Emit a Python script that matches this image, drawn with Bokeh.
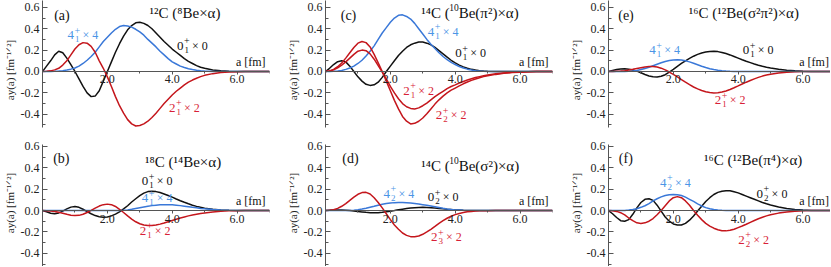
from bokeh.plotting import figure
from bokeh.models import FixedTicker, PrintfTickFormatter, Range1d
from bokeh.layouts import gridplot
from bokeh.core.properties import value
from bokeh.embed import file_html
from bokeh.resources import INLINE

# radial grid a [fm]
A = [0.0, 0.125, 0.25, 0.375, 0.5, 0.625, 0.75, 0.875,
     1.0, 1.125, 1.25, 1.375, 1.5, 1.625, 1.75, 1.875,
     2.0, 2.125, 2.25, 2.375, 2.5, 2.625, 2.75, 2.875,
     3.0, 3.125, 3.25, 3.375, 3.5, 3.625, 3.75, 3.875,
     4.0, 4.125, 4.25, 4.375, 4.5, 4.625, 4.75, 4.875,
     5.0, 5.25, 5.5, 5.75, 6.0, 6.25, 6.5, 6.75, 7.0]

# (a) 12C (8Be x alpha)
a_0p1 = [0, 0.05, 0.10, 0.155, 0.19, 0.175, 0.125, 0.065,
         0.0, -0.07, -0.14, -0.20, -0.235, -0.23, -0.18, -0.09,
         0.0, 0.09, 0.18, 0.26, 0.33, 0.39, 0.43, 0.455,
         0.46, 0.45, 0.43, 0.40, 0.36, 0.32, 0.28, 0.245,
         0.21, 0.18, 0.15, 0.12, 0.095, 0.075, 0.055, 0.04,
         0.03, 0.015, 0.007, 0.003, 0.001, 0, 0, 0, 0]
a_4p1 = [0, 0, 0.001, 0.002, 0.004, 0.008, 0.014, 0.022,
         0.033, 0.05, 0.075, 0.105, 0.14, 0.18, 0.23, 0.28,
         0.32, 0.36, 0.395, 0.42, 0.43, 0.425, 0.415, 0.395,
         0.37, 0.34, 0.30, 0.265, 0.23, 0.19, 0.155, 0.12,
         0.09, 0.07, 0.05, 0.037, 0.026, 0.018, 0.012, 0.007,
         0.004, 0.001, 0, 0, 0, 0, 0, 0, 0]
a_2p1 = [0, 0.002, 0.006, 0.015, 0.03, 0.06, 0.10, 0.155,
         0.21, 0.25, 0.27, 0.265, 0.235, 0.18, 0.10, 0.03,
         -0.05, -0.14, -0.235, -0.32, -0.39, -0.45, -0.49, -0.51,
         -0.505, -0.49, -0.465, -0.43, -0.39, -0.345, -0.30, -0.26,
         -0.22, -0.185, -0.155, -0.125, -0.10, -0.08, -0.063, -0.048,
         -0.036, -0.02, -0.01, -0.005, -0.002, 0, 0, 0, 0]

# (b) 18C (14Be x alpha)
b_0p1 = [0, -0.012, -0.025, -0.03, -0.022, -0.005, 0.015, 0.032,
         0.037, 0.03, 0.012, -0.01, -0.03, -0.047, -0.058, -0.063,
         -0.06, -0.05, -0.033, -0.012, 0.015, 0.045, 0.08, 0.11,
         0.14, 0.163, 0.177, 0.18, 0.177, 0.168, 0.155, 0.14,
         0.125, 0.108, 0.092, 0.077, 0.063, 0.05, 0.039, 0.03,
         0.022, 0.011, 0.005, 0.002, 0, 0, 0, 0, 0]
b_4p1 = [0, 0, 0, 0, 0, 0, 0, 0,
         0, 0, 0, 0, 0, 0, 0, 0,
         0, 0, 0, 0, 0.002, 0.006, 0.012, 0.019,
         0.026, 0.033, 0.04, 0.046, 0.05, 0.053, 0.055, 0.055,
         0.053, 0.05, 0.046, 0.041, 0.036, 0.03, 0.025, 0.02,
         0.016, 0.009, 0.005, 0.002, 0.001, 0, 0, 0, 0]
b_2p1 = [0, -0.001, -0.004, -0.009, -0.016, -0.025, -0.035, -0.043,
         -0.047, -0.045, -0.035, -0.018, 0.002, 0.023, 0.042, 0.055,
         0.06, 0.055, 0.038, 0.012, -0.018, -0.05, -0.08, -0.105,
         -0.123, -0.135, -0.14, -0.14, -0.135, -0.127, -0.117, -0.105,
         -0.093, -0.081, -0.07, -0.06, -0.05, -0.041, -0.034, -0.027,
         -0.022, -0.013, -0.007, -0.003, -0.001, 0, 0, 0, 0]

# (c) 14C (10Be(pi^2) x alpha)
c_0p1 = [0, 0.03, 0.065, 0.092, 0.10, 0.09, 0.05, 0.0,
         -0.05, -0.09, -0.12, -0.13, -0.125, -0.10, -0.055, 0.0,
         0.05, 0.10, 0.15, 0.19, 0.225, 0.25, 0.265, 0.275,
         0.275, 0.265, 0.25, 0.225, 0.195, 0.165, 0.135, 0.105,
         0.08, 0.06, 0.043, 0.03, 0.02, 0.013, 0.008, 0.005,
         0.003, 0.001, 0, 0, 0, 0, 0, 0, 0]
c_4p1 = [0, 0, 0.002, 0.005, 0.01, 0.02, 0.033, 0.05,
         0.075, 0.105, 0.145, 0.19, 0.24, 0.30, 0.36, 0.41,
         0.46, 0.50, 0.525, 0.53, 0.515, 0.49, 0.45, 0.40,
         0.35, 0.30, 0.255, 0.215, 0.175, 0.14, 0.11, 0.085,
         0.065, 0.047, 0.033, 0.022, 0.014, 0.008, 0.004, 0.002,
         0.001, 0, 0, 0, 0, 0, 0, 0, 0]
c_2p1 = [0, 0.004, 0.015, 0.035, 0.06, 0.09, 0.125, 0.16,
         0.19, 0.20, 0.195, 0.165, 0.115, 0.055, -0.005, -0.07,
         -0.14, -0.20, -0.255, -0.30, -0.33, -0.345, -0.35, -0.34,
         -0.32, -0.295, -0.265, -0.235, -0.21, -0.185, -0.16, -0.14,
         -0.125, -0.108, -0.093, -0.08, -0.068, -0.057, -0.048, -0.04,
         -0.033, -0.022, -0.014, -0.008, -0.005, -0.002, -0.001, 0, 0]
c_2p2 = [0, 0.005, 0.02, 0.045, 0.08, 0.125, 0.175, 0.225,
         0.265, 0.28, 0.27, 0.23, 0.16, 0.08, 0.0, -0.09,
         -0.18, -0.27, -0.35, -0.42, -0.465, -0.49, -0.485, -0.465,
         -0.435, -0.395, -0.35, -0.305, -0.265, -0.23, -0.20, -0.175,
         -0.155, -0.135, -0.115, -0.098, -0.083, -0.07, -0.058, -0.048,
         -0.04, -0.027, -0.017, -0.01, -0.006, -0.003, -0.001, 0, 0]

# (d) 14C (10Be(sigma^2) x alpha)
d_0p2 = [0, 0.002, 0.004, 0.005, 0.005, 0.003, 0.0, -0.004,
         -0.009, -0.013, -0.017, -0.02, -0.021, -0.02, -0.017, -0.012,
         -0.006, 0.0, 0.007, 0.013, 0.019, 0.024, 0.027, 0.029,
         0.03, 0.029, 0.027, 0.024, 0.02, 0.016, 0.012, 0.009,
         0.006, 0.004, 0.002, 0.001, 0, 0, 0, 0,
         0, 0, 0, 0, 0, 0, 0, 0, 0]
d_4p2 = [0, 0, 0, 0, 0, 0, 0.001, 0.003,
         0.008, 0.014, 0.022, 0.031, 0.04, 0.05, 0.058, 0.065,
         0.07, 0.074, 0.075, 0.075, 0.073, 0.07, 0.066, 0.061,
         0.055, 0.049, 0.042, 0.035, 0.028, 0.021, 0.015, 0.01,
         0.006, 0.004, 0.002, 0.001, 0, 0, 0, 0,
         0, 0, 0, 0, 0, 0, 0, 0, 0]
d_2p3 = [0, 0.002, 0.008, 0.02, 0.04, 0.065, 0.095, 0.125,
         0.152, 0.168, 0.17, 0.155, 0.12, 0.075, 0.025, -0.03,
         -0.085, -0.135, -0.175, -0.21, -0.232, -0.244, -0.245, -0.238,
         -0.222, -0.20, -0.175, -0.148, -0.12, -0.095, -0.072, -0.053,
         -0.038, -0.027, -0.018, -0.012, -0.008, -0.005, -0.003, -0.002,
         -0.001, 0, 0, 0, 0, 0, 0, 0, 0]

# (e) 16C (12Be(sigma^2 pi^2) x alpha)
e_0p1 = [0, 0.01, 0.018, 0.024, 0.025, 0.022, 0.014, 0.003,
         -0.012, -0.028, -0.042, -0.05, -0.052, -0.045, -0.03, -0.005,
         0.02, 0.048, 0.075, 0.10, 0.123, 0.143, 0.16, 0.173,
         0.183, 0.188, 0.189, 0.186, 0.178, 0.168, 0.155, 0.14,
         0.125, 0.11, 0.096, 0.083, 0.07, 0.059, 0.049, 0.04,
         0.033, 0.021, 0.012, 0.006, 0.003, 0.001, 0, 0, 0]
e_4p1 = [0, 0, 0, 0, 0, 0.002, 0.005, 0.01,
         0.018, 0.028, 0.04, 0.054, 0.068, 0.082, 0.094, 0.103,
         0.108, 0.11, 0.107, 0.10, 0.09, 0.077, 0.063, 0.049,
         0.037, 0.026, 0.018, 0.012, 0.007, 0.004, 0.002, 0.001,
         0, 0, 0, 0, 0, 0, 0, 0,
         0, 0, 0, 0, 0, 0, 0, 0, 0]
e_2p1 = [0, 0, 0.002, 0.004, 0.008, 0.013, 0.02, 0.028,
         0.036, 0.043, 0.047, 0.047, 0.042, 0.031, 0.015, -0.005,
         -0.027, -0.05, -0.075, -0.10, -0.123, -0.145, -0.163, -0.178,
         -0.19, -0.197, -0.20, -0.198, -0.192, -0.182, -0.168, -0.152,
         -0.135, -0.117, -0.10, -0.084, -0.069, -0.055, -0.043, -0.033,
         -0.025, -0.013, -0.006, -0.002, -0.001, 0, 0, 0, 0]

# (f) 16C (12Be(pi^4) x alpha)
f_0p2 = [0, -0.03, -0.065, -0.095, -0.10, -0.085, -0.035, 0.025,
         0.075, 0.105, 0.11, 0.095, 0.05, -0.005, -0.06, -0.10,
         -0.125, -0.135, -0.135, -0.12, -0.09, -0.05, -0.005, 0.04,
         0.085, 0.12, 0.15, 0.17, 0.18, 0.185, 0.185, 0.175,
         0.165, 0.15, 0.135, 0.12, 0.105, 0.09, 0.075, 0.063,
         0.052, 0.033, 0.019, 0.01, 0.004, 0.001, 0, 0, 0]
f_4p2 = [0, 0, 0, 0, 0.001, 0.004, 0.009, 0.017,
         0.03, 0.045, 0.065, 0.09, 0.11, 0.128, 0.14, 0.148,
         0.15, 0.148, 0.14, 0.125, 0.105, 0.085, 0.063, 0.043,
         0.027, 0.016, 0.009, 0.005, 0.002, 0.001, 0, 0,
         0, 0, 0, 0, 0, 0, 0, 0,
         0, 0, 0, 0, 0, 0, 0, 0, 0]
f_2p2 = [0, -0.002, -0.008, -0.02, -0.04, -0.07, -0.095, -0.115,
         -0.12, -0.115, -0.10, -0.075, -0.04, 0.0, 0.045, 0.09,
         0.12, 0.13, 0.12, 0.09, 0.05, 0.0, -0.045, -0.085,
         -0.12, -0.145, -0.165, -0.18, -0.188, -0.19, -0.185, -0.175,
         -0.16, -0.145, -0.128, -0.11, -0.093, -0.077, -0.063, -0.05,
         -0.04, -0.024, -0.013, -0.006, -0.002, 0, 0, 0, 0]

Y_TICKS = [-0.4, -0.2, 0.0, 0.2, 0.4, 0.6]
Y_MINOR = [-0.5, -0.3, -0.1, 0.1, 0.3, 0.5]
X_TICKS = [2.0, 4.0, 6.0]
X_MINOR = [1.0, 3.0, 5.0, 7.0]

BLACK = "#111111"
BLUE = "#3a78d8"
RED = "#c4161c"
BLUE_T = "#4b95e6"
RED_T = "#d81f38"
AXIS = "#555555"
FONT = "Liberation Serif"


def txt(p, x, y, s, size, color, dx=0, dy=0, align="left", baseline="middle"):
    p.text(x=[x], y=[y], text=[s], text_font=value(FONT), text_font_size=size,
           text_color=color, text_baseline=baseline, text_align=align,
           x_offset=dx, y_offset=dy)


def state_label(p, x, y, j, n, mult, color):
    # J^+_n x mult, with the + stacked over the index
    txt(p, x, y, j, "13px", color)
    txt(p, x, y, "+", "10px", color, dx=7, dy=-5)
    txt(p, x, y, n, "9px", color, dx=7.5, dy=4)
    txt(p, x, y, "\u00d7 " + mult, "12px", color, dx=15)


def panel(tag, tag_xy, title, title_xy, curves, labels, yr, bounds, height, width, xmax, afm_x):
    p = figure(width=width, height=height, x_range=Range1d(0, xmax), y_range=Range1d(*yr),
               output_backend="svg", toolbar_location=None,
               min_border_left=38, min_border_right=width - 38 - round(33 * xmax),
               min_border_top=0, min_border_bottom=0,
               outline_line_color=None)
    p.grid.visible = False
    for ys, col in curves:
        p.line(A, ys, line_color=col, line_width=1.5)
    xa = p.xaxis[0]
    xa.fixed_location = 0
    xa.ticker = FixedTicker(ticks=X_TICKS, minor_ticks=X_MINOR)
    xa.formatter = PrintfTickFormatter(format="%.1f")
    xa.major_tick_in = 0
    xa.major_tick_out = 3
    xa.minor_tick_in = 0
    xa.minor_tick_out = 2
    xa.major_label_standoff = 1
    xa.axis_line_color = AXIS
    xa.major_tick_line_color = AXIS
    xa.minor_tick_line_color = AXIS
    xa.major_label_text_font = FONT
    xa.major_label_text_font_size = "12px"
    xa.major_label_text_color = "#222222"
    ya = p.yaxis[0]
    ya.bounds = bounds
    ya.ticker = FixedTicker(ticks=Y_TICKS, minor_ticks=Y_MINOR)
    ya.formatter = PrintfTickFormatter(format="%.1f")
    ya.major_tick_in = 5
    ya.major_tick_out = 0
    ya.minor_tick_in = 3
    ya.minor_tick_out = 0
    ya.major_label_standoff = 3
    ya.axis_line_color = AXIS
    ya.major_tick_line_color = AXIS
    ya.minor_tick_line_color = AXIS
    ya.major_label_text_font = FONT
    ya.major_label_text_font_size = "12px"
    ya.major_label_text_color = "#222222"
    ya.axis_label = "ay(a) [fm\u207b\u00b9\u141f\u00b2]"
    ya.axis_label_text_font = FONT
    ya.axis_label_text_font_size = "11px"
    ya.axis_label_text_font_style = "normal"
    ya.axis_label_text_color = "#222222"
    ya.axis_label_standoff = 2

    txt(p, tag_xy[0], tag_xy[1], tag, "14px", "#111111")
    # title may be split into pieces: (text, size, dx, dy)
    for (s, size, dx, dy) in title:
        txt(p, title_xy[0], title_xy[1], s, size, "#111111", dx=dx, dy=dy)
    txt(p, afm_x, 0.025, "a [fm]", "12px", "#111111", align="right", baseline="bottom")
    for (lx, ly, j, n, mult, col) in labels:
        state_label(p, lx, ly, j, n, mult, col)
    return p


def whole(s):
    return [(s, "15px", 0, 0)]


def with_be10(head, tail):
    # "¹⁴C (" + raised "10" + tail
    return [(head, "15px", 0, 0), ("10", "9.5px", 28, -5), (tail, "15px", 37.5, 0)]


TOP = dict(yr=(-0.636, 0.664), bounds=(-0.52, 0.7), height=139)
BOT = dict(yr=(-0.523, 0.664), bounds=(-0.6, 0.62), height=127)
COL1 = dict(width=283, xmax=7.0, afm_x=6.88)
COL2 = dict(width=283, xmax=7.0, afm_x=6.88)
COL3 = dict(width=264, xmax=6.85, afm_x=6.8)

pa = panel("(a)", (0.36, 0.52), whole("\u00b9\u00b2C (\u2078Be\u00d7\u03b1)"), (3.3, 0.55),
           [(a_0p1, BLACK), (a_4p1, BLUE), (a_2p1, RED)],
           [(0.77, 0.34, "4", "1", "4", BLUE_T),
            (4.15, 0.24, "0", "1", "0", BLACK),
            (3.9, -0.34, "2", "1", "2", RED_T)], **TOP, **COL1)
pc = panel("(c)", (0.47, 0.52), with_be10("\u00b9\u2074C (", "Be(\u03c0\u00b2)\u00d7\u03b1)"), (2.95, 0.55),
           [(c_0p1, BLACK), (c_4p1, BLUE), (c_2p1, RED), (c_2p2, RED)],
           [(3.15, 0.37, "4", "1", "4", BLUE_T),
            (4.0, 0.17, "0", "1", "0", BLACK),
            (2.4, -0.18, "2", "1", "2", RED_T),
            (3.4, -0.41, "2", "2", "2", RED_T)], **TOP, **COL2)
pe = panel("(e)", (0.3, 0.52), whole("\u00b9\u2076C (\u00b9\u00b2Be(\u03c3\u00b2\u03c0\u00b2)\u00d7\u03b1)"), (2.48, 0.55),
           [(e_0p1, BLACK), (e_4p1, BLUE), (e_2p1, RED)],
           [(1.26, 0.20, "4", "1", "4", BLUE_T),
            (4.14, 0.20, "0", "1", "0", BLACK),
            (3.28, -0.27, "2", "1", "2", RED_T)], **TOP, **COL3)
pb = panel("(b)", (0.33, 0.49), whole("\u00b9\u2078C (\u00b9\u2074Be\u00d7\u03b1)"), (3.16, 0.45),
           [(b_0p1, BLACK), (b_4p1, BLUE), (b_2p1, RED)],
           [(3.06, 0.275, "0", "1", "0", BLACK),
            (3.06, 0.115, "4", "1", "4", BLUE_T),
            (3.0, -0.19, "2", "1", "2", RED_T)], **BOT, **COL1)
pd = panel("(d)", (0.52, 0.49), with_be10("\u00b9\u2074C (", "Be(\u03c3\u00b2)\u00d7\u03b1)"), (2.95, 0.42),
           [(d_0p2, BLACK), (d_4p2, BLUE), (d_2p3, RED)],
           [(1.79, 0.156, "4", "2", "4", BLUE_T),
            (3.15, 0.125, "0", "2", "0", BLACK),
            (3.25, -0.25, "2", "3", "2", RED_T)], **BOT, **COL2)
pf = panel("(f)", (0.32, 0.49), whole("\u00b9\u2076C (\u00b9\u00b2Be(\u03c0\u2074)\u00d7\u03b1)"), (2.95, 0.47),
           [(f_0p2, BLACK), (f_4p2, BLUE), (f_2p2, RED)],
           [(1.59, 0.26, "4", "2", "4", BLUE_T),
            (4.57, 0.156, "0", "2", "0", BLACK),
            (4.0, -0.275, "2", "2", "2", RED_T)], **BOT, **COL3)

grid = gridplot([[pa, pc, pe], [pb, pd, pf]], toolbar_location=None)
open("out.html", "w").write(file_html(grid, INLINE))
